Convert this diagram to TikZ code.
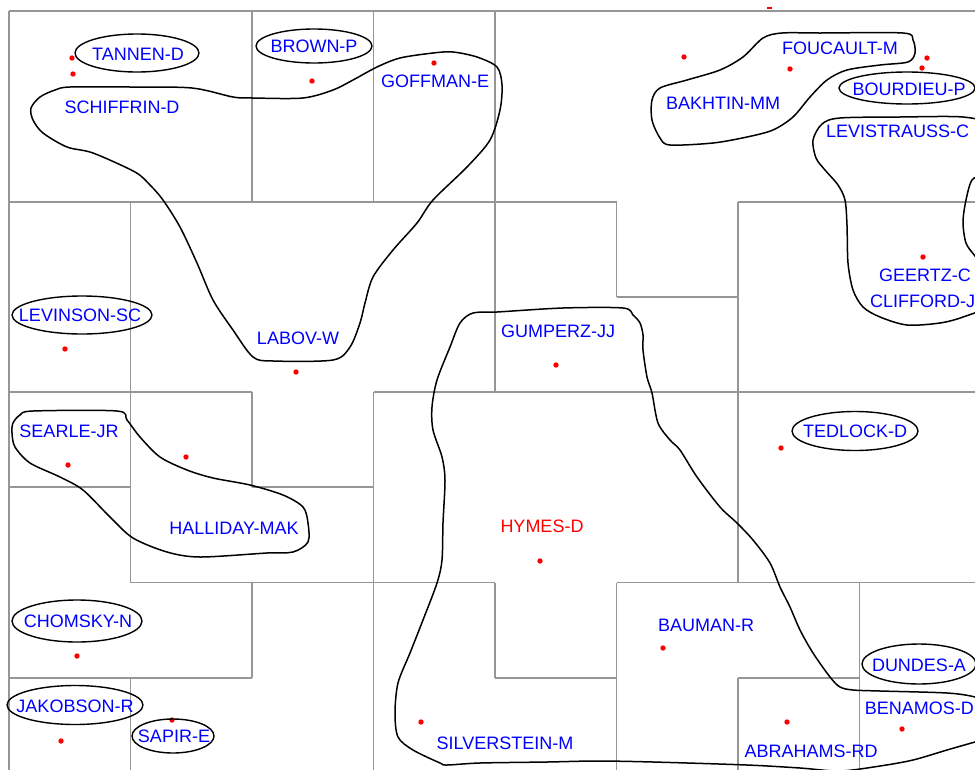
\documentclass[tikz,border=0pt]{standalone}
\usepackage{fontspec}
\setmainfont{Liberation Sans}
\definecolor{gridgray}{RGB}{150,150,150}
\definecolor{lblblue}{RGB}{0,0,255}
\definecolor{dotred}{RGB}{255,0,0}
\begin{document}
\begin{tikzpicture}[x=1pt,y=-1pt,
  cellline/.style={draw=gridgray, line width=1.8pt},
  blob/.style={draw=black, line width=1.5pt, line join=round},
  ringline/.style={draw=black, line width=1.4pt},
  lbl/.style={text=lblblue, font=\fontsize{18}{18}\selectfont, inner sep=0pt,
              text height=12.9pt, text depth=0pt},
  hub/.style={lbl, text=dotred},
  dot/.style={fill=dotred, draw=none}]
\useasboundingbox (0,0) rectangle (975,769);
\fill[white] (0,0) rectangle (975,769);
\clip (0,0) rectangle (975,769);

% cell borders of the map
\path[cellline]
  (9,11) -- (981,11)   (9,11) -- (9,773)
  (252,11) -- (252,202)   (252,392) -- (252,487)   (252,582.5) -- (252,678)
  (373.5,11) -- (373.5,202)   (373.5,392) -- (373.5,773)
  (495,11) -- (495,392)   (495,582.5) -- (495,678)
  (130.5,202) -- (130.5,582.5)   (130.5,678) -- (130.5,773)
  (616.5,202) -- (616.5,297)   (616.5,582.5) -- (616.5,773)
  (738,202) -- (738,582.5)   (738,678) -- (738,773)
  (859.5,582.5) -- (859.5,773)
  (9,202) -- (616.5,202)   (738,202) -- (981,202)
  (616.5,297) -- (738,297)
  (9,392) -- (252,392)   (373.5,392) -- (981,392)
  (9,487) -- (130.5,487)   (252,487) -- (373.5,487)
  (130.5,582.5) -- (495,582.5)   (616.5,582.5) -- (981,582.5)
  (9,678) -- (252,678)   (495,678) -- (616.5,678)   (738,678) -- (859.5,678);

% cluster outlines
\draw[blob] plot[smooth cycle, tension=0.5] coordinates {
  (31,108) (40,97) (55,90) (70,87) (130,87) (192,88) (233,97) (253,98) (303,98)
  (333,90) (353,80) (377,67) (400,58) (433,53) (453,52) (477,57) (497,67)
  (502,85) (500,110) (490,140) (467,167) (433,200) (417,223) (393,250)
  (373,277) (365,303) (360,323) (350,347) (333,360) (273,361) (253,357)
  (233,330) (213,300) (197,263) (180,227) (163,200) (150,185) (135,172)
  (93,153) (67,147) (43,133) (33,120)};

\draw[blob] plot[smooth cycle, tension=0.5] coordinates {
  (13,423) (20,415) (33,411) (117,411) (127,420) (140,437) (160,457)
  (187,470) (213,478) (250,485) (283,495) (303,507) (308,523) (308,542)
  (293,552) (267,553) (200,557) (167,552) (133,538) (110,517) (83,490)
  (60,477) (30,463) (15,447) (12,433)};

\draw[blob] plot[smooth cycle, tension=0.5] coordinates {
  (652,100) (660,88) (687,80) (720,70) (743,57) (763,38) (782,33) (820,33)
  (903,33) (913,40) (915,53) (908,62) (880,65) (847,70) (827,80) (810,97)
  (793,117) (773,130) (747,137) (713,143) (670,145) (660,138) (652,120)};

\draw[blob] plot[smooth cycle, tension=0.5] coordinates {
  (813,140) (822,124) (840,118) (900,117) (963,117) (990,125) (1000,150)
  (985,172) (972,180) (966,200) (963,222) (966,243) (975,256) (990,275)
  (988,305) (963,317) (940,323) (907,325) (880,317) (863,307) (853,290)
  (848,263) (847,225) (845,200) (838,185) (825,170) (816,158)};

\draw[blob] plot[smooth cycle, tension=0.5] coordinates {
  (497,312) (563,308) (623,308) (633,315) (640,323) (643,335) (643,350)
  (647,377) (652,393) (658,423) (670,440) (680,450) (697,477) (720,507)
  (737,523) (753,540) (770,563) (780,587) (790,607) (800,630) (813,653)
  (830,677) (840,687) (853,690) (880,691) (947,693) (975,697) (995,705)
  (1000,725) (990,738) (975,742) (947,750) (913,760) (880,766) (840,771)
  (800,768) (747,765) (653,762) (597,761) (547,762) (480,763) (447,765)
  (440,763) (413,750) (398,737) (395,713) (398,683) (410,653) (423,620)
  (437,583) (442,560) (443,523) (445,480) (442,457) (433,430) (432,407)
  (437,380) (450,347) (460,323) (473,313)};

% map units
\foreach \p in {(72,58),(73,74),(312,81),(434,63),(684,57),(790,69),(927,58),
  (922,68),(65,349),(296,372),(68,465),(186,457),(923,257),(556,365),(781,448),
  (540,561),(77,656),(61,741),(172,720),(421,722),(663,648),(902,729),(787,722)}
  \fill[dot] \p circle[radius=2.7];
\fill[dot] (767,6.5) rectangle (772,9);

% author labels
\node[lbl] (tannen) at (138,54) {TANNEN-D};
\node[lbl] (brown) at (314,46) {BROWN-P};
\node[lbl] (goffman) at (435,81) {GOFFMAN-E};
\node[lbl] (schiffrin) at (122,107) {SCHIFFRIN-D};
\node[lbl] (foucault) at (840,48) {FOUCAULT-M};
\node[lbl] (bakhtin) at (723,103) {BAKHTIN-MM};
\node[lbl] (bourdieu) at (909,89) {BOURDIEU-P};
\node[lbl, anchor=west] (levistrauss) at (826,131) {LEVISTRAUSS-C};
\node[lbl, anchor=west] (geertz) at (879,275) {GEERTZ-C};
\node[lbl, anchor=west] (clifford) at (870,301) {CLIFFORD-J};
\node[lbl] (levinson) at (80,315) {LEVINSON-SC};
\node[lbl] (labov) at (298,338) {LABOV-W};
\node[lbl] (gumperz) at (558,331) {GUMPERZ-JJ};
\node[lbl] (searle) at (69,431) {SEARLE-JR};
\node[lbl] (halliday) at (234,528) {HALLIDAY-MAK};
\node[lbl] (tedlock) at (855,431) {TEDLOCK-D};
\node[hub] (hymes) at (542,526) {HYMES-D};
\node[lbl] (chomsky) at (78,621) {CHOMSKY-N};
\node[lbl] (bauman) at (706,625) {BAUMAN-R};
\node[lbl] (dundes) at (919,665) {DUNDES-A};
\node[lbl] (jakobson) at (75,706) {JAKOBSON-R};
\node[lbl] (sapir) at (174,736) {SAPIR-E};
\node[lbl] (silverstein) at (505,743) {SILVERSTEIN-M};
\node[lbl, anchor=east] (benamos) at (974,708) {BENAMOS-D};
\node[lbl] (abrahams) at (811,751) {ABRAHAMS-RD};

% rings round single authors
\draw[ringline] (137,53) ellipse[x radius=62, y radius=19];
\draw[ringline] (314,46) ellipse[x radius=58, y radius=17];
\draw[ringline] (907,88) ellipse[x radius=68, y radius=16];
\draw[ringline] (82,315) ellipse[x radius=70, y radius=19];
\draw[ringline] (855,431) ellipse[x radius=63, y radius=19.5];
\draw[ringline] (77,621) ellipse[x radius=65, y radius=21];
\draw[ringline] (75,705) ellipse[x radius=68, y radius=19.5];
\draw[ringline] (173,736) ellipse[x radius=41, y radius=17];
\draw[ringline] (919,664) ellipse[x radius=57, y radius=20];
\end{tikzpicture}
\end{document}
